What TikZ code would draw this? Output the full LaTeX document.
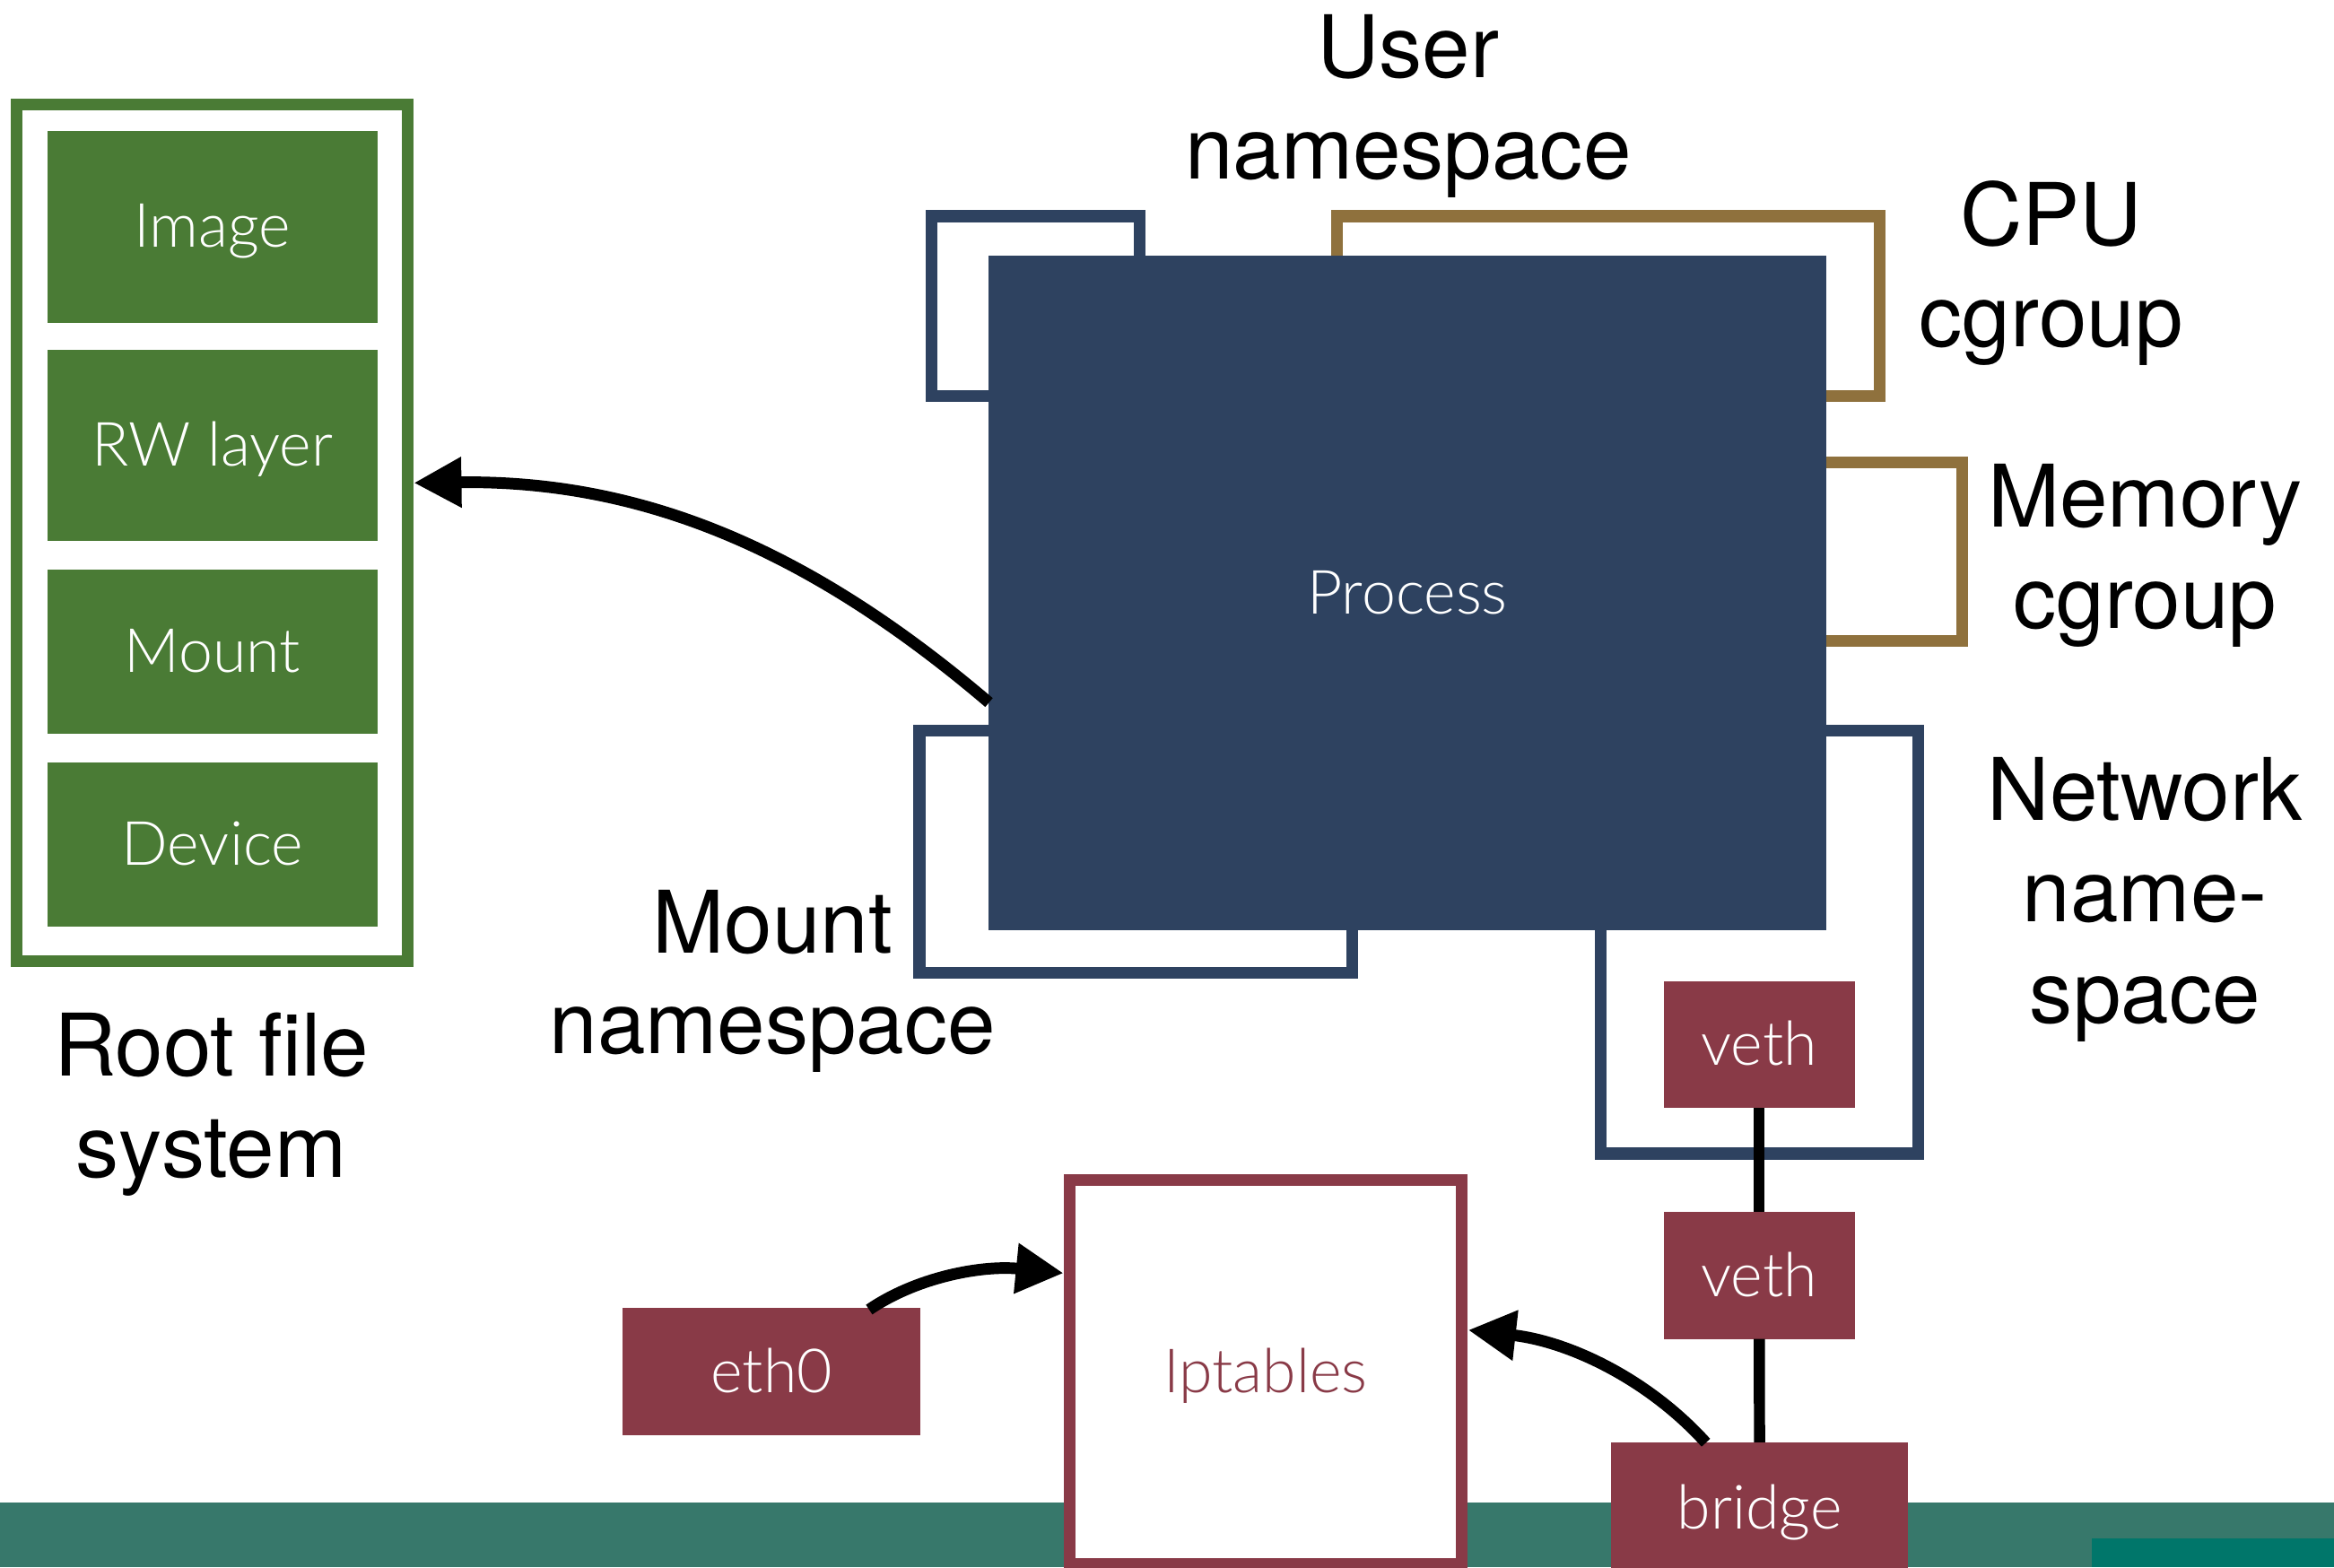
\documentclass[tikz,border=0pt]{standalone}
\usepackage{fontspec}
\setmainfont{TeX Gyre Heros}
\newfontfamily\lightfont{Lato Light}
\usetikzlibrary{arrows.meta,calc}
\definecolor{rfgreen}{HTML}{4A7B35}
\definecolor{navy}{HTML}{2E4260}
\definecolor{gold}{HTML}{8F713D}
\definecolor{maroon}{HTML}{893A47}
\definecolor{tealA}{HTML}{37786B}
\definecolor{tealB}{HTML}{00766A}
\begin{document}
\begin{tikzpicture}[x=0.5pt,y=-0.5pt,
  every node/.style={inner sep=0pt,outer sep=0pt},
  sz/.style 2 args={minimum width=#1*0.5pt,minimum height=#2*0.5pt},
  boxframe/.style={draw=#1,line width=4pt,fill=white},
  fillbox/.style={fill=#1},
  wlabel/.style={text=white,font=\lightfont\fontsize{20.5}{24}\selectfont,text height=14pt,text depth=0pt},
  biglabel/.style={font=\fontsize{29}{34}\selectfont,anchor=base},
  conn/.style={line width=3.75pt},
  arr/.style={line width=3.9pt,-{Triangle[length=16pt,width=16pt]}},
]
\useasboundingbox (0,0) rectangle (1568,1053);
\clip (0,0) rectangle (1568,1053);
% bottom bar
\fill[tealA] (0,1009.4) rectangle (1568,1053);
\fill[tealB] (1405,1033.5) rectangle (1568,1053);

% root file system
\node[boxframe=rfgreen, sz={263}{575.5}] (rootfs) at (142.5,357.75) {};
\node[fillbox=rfgreen, sz={221.5}{128.7}, wlabel] (image) at (142.75,152.3) {Image};
\node[fillbox=rfgreen, sz={221.5}{128.4}, wlabel] (rw) at (142.75,299.3) {RW layer};
\node[fillbox=rfgreen, sz={221.5}{110.3}, wlabel] (mount) at (142.75,437.9) {Mount};
\node[fillbox=rfgreen, sz={221.5}{110.3}, wlabel] (device) at (142.75,567.4) {Device};

% namespaces / cgroups
\node[boxframe=navy, sz={139.6}{120.7}] (userns) at (695.8,205.6) {};
\node[boxframe=gold, sz={364.7}{120.7}] (cpu) at (1080.4,205.6) {};
\node[boxframe=gold, sz={168}{120}] (memory) at (1234,370.6) {};
\node[boxframe=navy, sz={290.9}{162.6}] (mountns) at (763.1,572.2) {};
\node[boxframe=navy, sz={213.4}{284.1}] (netns) at (1181.9,632.95) {};

% process
\node[fillbox=navy, sz={563}{453.5}, wlabel] (process) at (945.5,398.45) {Process};

% network
\node[fillbox=maroon, sz={128.4}{85.1}, wlabel] (veth1) at (1181.8,701.9) {veth};
\node[fillbox=maroon, sz={128.4}{85.4}, wlabel] (veth2) at (1181.8,856.8) {veth};
\node[fillbox=maroon, sz={199.5}{88.1}, wlabel] (bridge) at (1182.15,1012.95) {bridge};
\node[boxframe=maroon, sz={263.4}{257.7}, wlabel, text=maroon] (iptables) at (850.2,921.6) {Iptables};
\node[fillbox=maroon, sz={200.3}{85.4}, wlabel] (eth0) at (518.35,921.5) {eth0};

\draw[conn] (veth1) -- (veth2);
\draw[conn] (veth2) -- (bridge);

% arrows
\draw[arr] ($(process.west)+(0.4,73.5)$) .. controls (540,366) and (428,322.4) .. ($(rootfs.east)+(4,-33.35)$);
\draw[arr] ($(eth0.north)+(65.55,1)$) .. controls (616,857.9) and (659.5,849.8) .. ($(iptables.west)+(-4,-66.3)$);
\draw[arr] ($(bridge.north)+(-36.15,0.3)$) .. controls (1107.3,926.4) and (1054.1,901.2) .. ($(iptables.east)+(4.4,-28.1)$);

% labels
\node[biglabel] (lu1) at (946,52) {User};
\node[biglabel] (lu2) at (946,120) {namespace};
\node[biglabel] (lc1) at (1378,165) {CPU};
\node[biglabel] (lc2) at (1378,233) {cgroup};
\node[biglabel] (lm1) at (1441,354) {Memory};
\node[biglabel] (lm2) at (1441,422) {cgroup};
\node[biglabel] (ln1) at (1441,551) {Network};
\node[biglabel] (ln2) at (1441,619) {name-};
\node[biglabel] (ln3) at (1441,687) {space};
\node[biglabel] (lmn1) at (519,640) {Mount};
\node[biglabel] (lmn2) at (519,708) {namespace};
\node[biglabel] (lr1) at (142,723) {Root file};
\node[biglabel] (lr2) at (142,791) {system};
\end{tikzpicture}
\end{document}
